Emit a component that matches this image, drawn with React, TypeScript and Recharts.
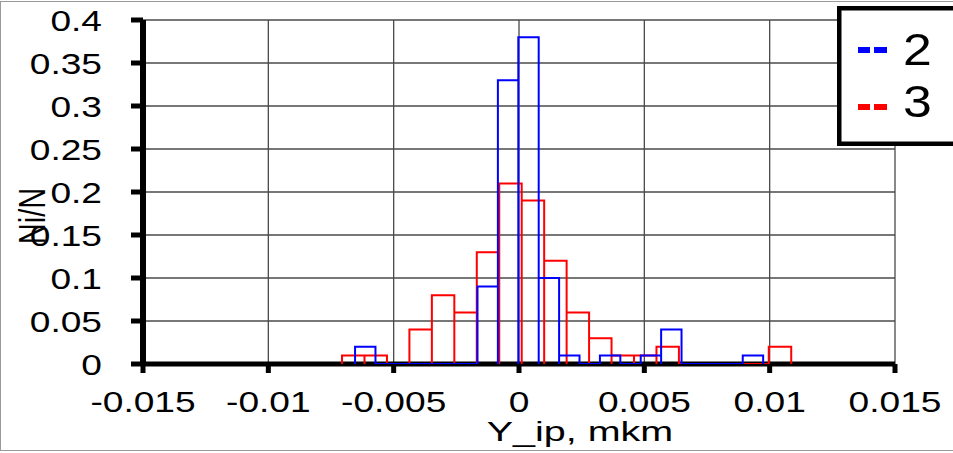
import React from 'react';
import { LineChart, Line, XAxis, YAxis, CartesianGrid } from 'recharts';

const FONT = '"Liberation Sans", Arial, sans-serif';
const SX = 1.28; // picture is stretched sideways

const X_TICKS = [-0.015, -0.01, -0.005, 0, 0.005, 0.01, 0.015];
const X_LABELS = ['-0.015', '-0.01', '-0.005', '0', '0.005', '0.01', '0.015'];
const Y_TICKS = [0, 0.05, 0.1, 0.15, 0.2, 0.25, 0.3, 0.35, 0.4];
const Y_LABELS = ['0', '0.05', '0.1', '0.15', '0.2', '0.25', '0.3', '0.35', '0.4'];

// series "2" (blue), 20 bins
const BLUE_START = -0.00654;
const BLUE_WIDTH = 0.000814;
const BLUE_VALUES = [0.02, 0, 0, 0, 0, 0, 0.09, 0.33, 0.38, 0.1, 0.01, 0, 0.01, 0, 0.01, 0.04, 0, 0, 0, 0.01];

// series "3" (red), 20 bins
const RED_START = -0.00706;
const RED_WIDTH = 0.000896;
const RED_VALUES = [0.01, 0.01, 0, 0.04, 0.08, 0.06, 0.13, 0.21, 0.19, 0.12, 0.06, 0.03, 0.01, 0.01, 0.02, 0, 0, 0, 0, 0.02];

// outline of each bin as a box: up, across, down
function outline(start: number, width: number, values: number[]) {
  const pts: { x: number; y: number }[] = [];
  values.forEach((v, i) => {
    const x0 = start + i * width;
    const x1 = x0 + width;
    pts.push({ x: x0, y: 0 }, { x: x0, y: v }, { x: x1, y: v }, { x: x1, y: 0 });
  });
  return pts;
}

const blueData = outline(BLUE_START, BLUE_WIDTH, BLUE_VALUES);
const redData = outline(RED_START, RED_WIDTH, RED_VALUES);

const XTick = (props: any) => {
  const { x, payload } = props;
  const label = X_LABELS[X_TICKS.indexOf(payload.value)];
  return (
    <text transform={`translate(${x},412) scale(${SX},1)`} textAnchor="middle" fontSize={29} fontFamily={FONT} fill="#000">
      {label}
    </text>
  );
};

const YTick = (props: any) => {
  const { y, payload } = props;
  const label = Y_LABELS[Y_TICKS.indexOf(payload.value)];
  return (
    <text transform={`translate(102,${y + 10.5}) scale(${SX},1)`} textAnchor="end" fontSize={29} fontFamily={FONT} fill="#000">
      {label}
    </text>
  );
};

const LegendBox = () => (
  <svg width={116} height={142} style={{ position: 'absolute', left: 837, top: 6, overflow: 'visible' }}>
    <rect x={2.25} y={2.25} width={200} height={135.5} fill="#fff" stroke="#000" strokeWidth={4.5} />
    <rect x={21} y={41} width={12} height={6} fill="#0000ff" />
    <rect x={37} y={41} width={13} height={6} fill="#0000ff" />
    <text transform="translate(66,59) scale(1.15,1)" fontSize={45} fontFamily={FONT} fill="#000">2</text>
    <rect x={21} y={98} width={12} height={6} fill="#ff0000" />
    <rect x={37} y={98} width={13} height={6} fill="#ff0000" />
    <text transform="translate(66,111) scale(1.15,1)" fontSize={45} fontFamily={FONT} fill="#000">3</text>
  </svg>
);

export default function App() {
  return (
    <div style={{ position: 'absolute', left: 0, top: 0, width: 953, height: 453, background: '#fff', overflow: 'hidden' }}>
      <div style={{ position: 'absolute', left: 0, top: 1, width: 960, height: 450, border: '1px solid #9a9a9a', boxSizing: 'border-box' }} />
      <LineChart width={953} height={453} margin={{ top: 20, right: 58, bottom: 0, left: 0 }}>
        <CartesianGrid stroke="#4a4a4a" strokeWidth={1.3} />
        <XAxis
          dataKey="x"
          type="number"
          domain={[-0.015, 0.015]}
          ticks={X_TICKS}
          allowDataOverflow
          height={89}
          axisLine={{ stroke: '#000', strokeWidth: 5 }}
          tickLine={{ stroke: '#000', strokeWidth: 5 }}
          tickSize={9}
          tick={<XTick />}
          label={{
            content: () => (
              <text transform="translate(580,441) scale(1.41,1)" textAnchor="middle" fontSize={28} fontFamily={FONT} fill="#000">
                Y_ip, mkm
              </text>
            ),
          }}
        />
        <YAxis
          type="number"
          domain={[0, 0.4]}
          ticks={Y_TICKS}
          allowDataOverflow
          width={143}
          axisLine={{ stroke: '#000', strokeWidth: 6 }}
          tickLine={{ stroke: '#000', strokeWidth: 5 }}
          tickSize={12}
          tick={<YTick />}
          label={{
            content: () => (
              <text transform="translate(45,216) scale(1.3,1) rotate(-90)" textAnchor="middle" fontSize={29} fontFamily={FONT} fill="#000">
                Ni/N
              </text>
            ),
          }}
        />
        <Line data={redData} dataKey="y" type="linear" stroke="#ff0000" strokeWidth={2} dot={false} isAnimationActive={false} zIndex={600} />
        <Line data={blueData} dataKey="y" type="linear" stroke="#0000ff" strokeWidth={2} dot={false} isAnimationActive={false} zIndex={601} />
      </LineChart>
      <LegendBox />
    </div>
  );
}
